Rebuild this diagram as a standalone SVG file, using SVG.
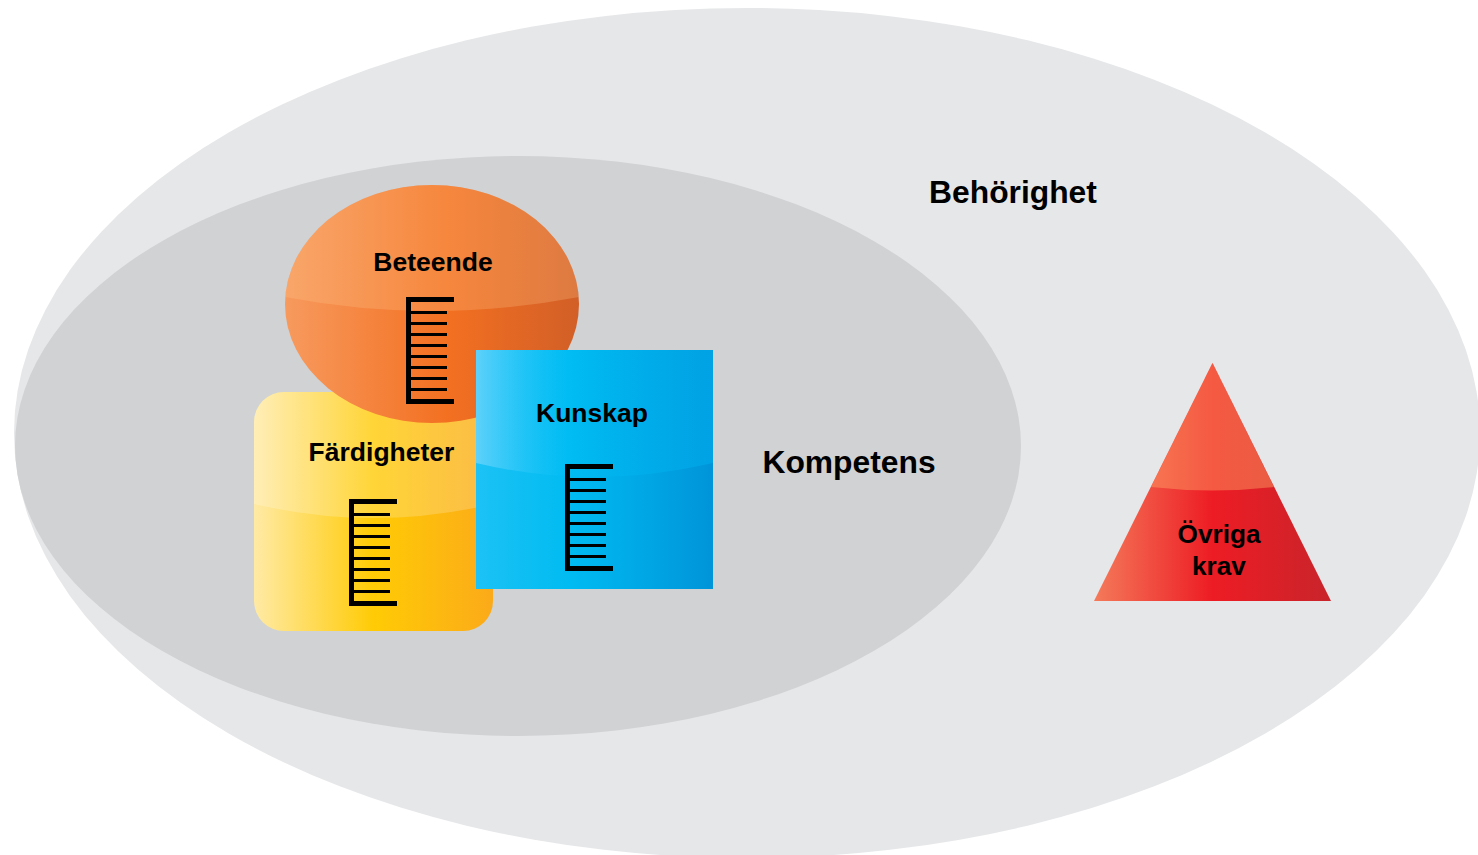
<svg xmlns="http://www.w3.org/2000/svg" width="1478" height="855" viewBox="0 0 1478 855">
<style>
.l{font-family:"Liberation Sans",Arial,sans-serif;font-weight:700;fill:#000;text-anchor:middle}
.n{font-size:26.5px}
.s{font-size:26.2px}
.t{font-size:31.800px}
.h{fill:#fff;fill-opacity:.2}
.ho{fill:#ffc890;fill-opacity:.26}
</style>
<defs>
<linearGradient id="go"><stop offset="0" stop-color="#f79a5e"/><stop offset=".55" stop-color="#f37021"/><stop offset="1" stop-color="#d25f27"/></linearGradient>
<linearGradient id="gy"><stop offset="0" stop-color="#ffeaa5"/><stop offset=".5" stop-color="#ffcb05"/><stop offset="1" stop-color="#fbaa19"/></linearGradient>
<linearGradient id="gb"><stop offset="0" stop-color="#1cc2f5"/><stop offset=".4" stop-color="#00bbf1"/><stop offset="1" stop-color="#0094d9"/></linearGradient>
<linearGradient id="gr"><stop offset="0" stop-color="#f47a5a"/><stop offset=".5" stop-color="#ed1c24"/><stop offset="1" stop-color="#c9242b"/></linearGradient>
<linearGradient id="hb"><stop offset="0" stop-color="#9fe0ff" stop-opacity=".5"/><stop offset=".4" stop-color="#00c4ff" stop-opacity=".1"/><stop offset="1" stop-color="#00c4ff" stop-opacity=".3"/></linearGradient>
<clipPath id="ce"><ellipse cx="432" cy="304" rx="147" ry="119"/></clipPath>
<g id="comb" fill="#000">
<rect x="0" y="0" width="5" height="106"/>
<rect x="0" y="0" width="48" height="5"/>
<rect x="0" y="102" width="48" height="5"/>
<rect x="0" y="14" width="41" height="3"/><rect x="0" y="25" width="41" height="3"/><rect x="0" y="36" width="41" height="3"/><rect x="0" y="47" width="41" height="3"/><rect x="0" y="58" width="41" height="3"/><rect x="0" y="69" width="41" height="3"/><rect x="0" y="80" width="41" height="3"/><rect x="0" y="91" width="41" height="3"/>
</g>
</defs>
<rect width="1478" height="855" fill="#fff"/>
<g id="behorighet">
<ellipse cx="747" cy="433" rx="733" ry="425" fill="#e6e7e9"/>
<text class="l t" x="1013" y="203">Behörighet</text>
</g>
<g id="kompetens">
<ellipse cx="518" cy="446" rx="503" ry="290" fill="#d0d2d4"/>
<text class="l t" x="849" y="473">Kompetens</text>
</g>
<g id="fardigheter">
<rect x="254" y="392" width="239" height="239" rx="30" fill="url(#gy)"/>
<path class="h" d="M254 504V422a30 30 0 0 1 30-30H463a30 30 0 0 1 30 30V504Q373 532 254 504Z"/>
</g>
<g id="beteende">
<ellipse cx="432" cy="304" rx="147" ry="119" fill="url(#go)"/>
<path class="ho" clip-path="url(#ce)" d="M280 296V180H584V296Q432 326 280 296Z"/>
<text class="l n" x="433" y="271">Beteende</text>
<use href="#comb" x="406" y="297"/>
</g>
<g id="fardigheter-label">
<text class="l n" x="381.500" y="461">Färdigheter</text>
<use href="#comb" x="349" y="499"/>
</g>
<g id="kunskap">
<rect x="476" y="350" width="237" height="239" fill="url(#gb)"/>
<path d="M476 350H713V463Q594 491 476 463Z" fill="url(#hb)"/>
<text class="l n" x="592" y="422">Kunskap</text>
<use href="#comb" x="565" y="464"/>
</g>
<g id="ovriga">
<path d="M1212.500 363L1331 601H1094Z" fill="url(#gr)"/>
<path d="M1212.500 363L1274 487Q1212 494 1151 487Z" fill="#ffa868" fill-opacity=".44"/>
<text class="l s" x="1219" y="543">Övriga</text>
<text class="l s" x="1219" y="575">krav</text>
</g>
</svg>
